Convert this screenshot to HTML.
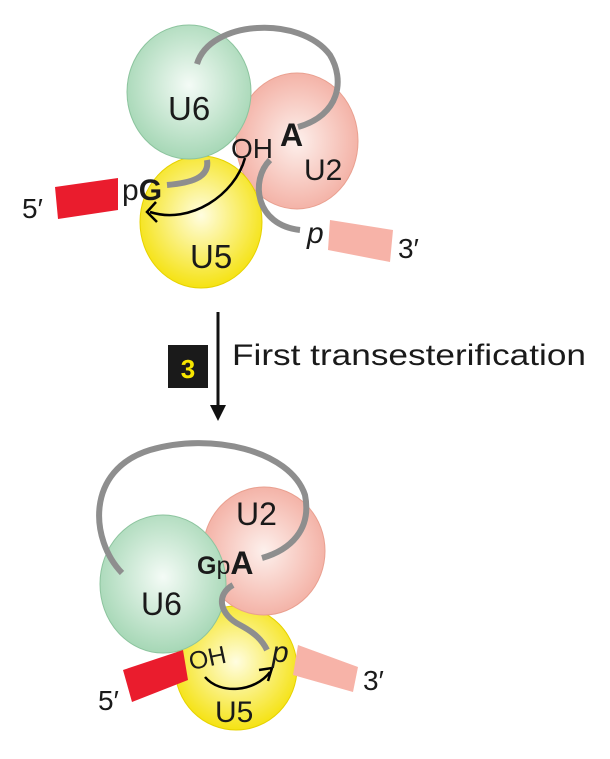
<!DOCTYPE html>
<html><head><meta charset="utf-8"><style>
html,body{margin:0;padding:0;background:#fff;}
svg{display:block;font-family:"Liberation Sans",sans-serif;}
</style></head><body>
<svg width="610" height="759" viewBox="0 0 610 759" xmlns="http://www.w3.org/2000/svg">
<defs>
<radialGradient id="g" cx="50%" cy="45%" r="60%"><stop offset="0" stop-color="#f4fbf6"/><stop offset="1" stop-color="#9fd4b0"/></radialGradient>
<radialGradient id="r" cx="50%" cy="50%" r="60%"><stop offset="0" stop-color="#fdf0ec"/><stop offset="1" stop-color="#f2a79a"/></radialGradient>
<radialGradient id="y" cx="50%" cy="45%" r="60%"><stop offset="0" stop-color="#fffde0"/><stop offset="1" stop-color="#f4e000"/></radialGradient>
</defs>
<!-- TOP -->
<ellipse cx="297" cy="141" rx="61" ry="68" fill="url(#r)" stroke="#e9a090" stroke-width="1"/>
<ellipse cx="201" cy="222" rx="61" ry="66" fill="url(#y)" stroke="#e6d200" stroke-width="1"/>
<ellipse cx="189" cy="92" rx="62" ry="67" fill="url(#g)" stroke="#8cc49e" stroke-width="1"/>
<path d="M197,64 C210,20 300,15 330,55 C345,80 340,115 298,127" fill="none" stroke="#8e8e8e" stroke-width="6"/>
<path d="M207,160 C210,178 190,183 167,185" fill="none" stroke="#8e8e8e" stroke-width="6"/>
<path d="M270,160 C250,180 255,225 300,230" fill="none" stroke="#8e8e8e" stroke-width="6"/>
<path d="M245,158 C235,195 190,225 150,212" fill="none" stroke="#000" stroke-width="2.5"/>
<path d="M156,202 L147,212 L157,222" fill="none" stroke="#000" stroke-width="2.5"/>
<polygon points="55,187 118,178 118,210 58,219" fill="#ea1c2d"/>
<polygon points="330,220 393,230 390,262 328,250" fill="#f7b3a8"/>
<g font-size="28" fill="#1a1a1a">
<text x="168" y="120" font-size="33">U6</text>
<text x="304" y="180" font-size="30">U2</text>
<text x="190" y="268" font-size="33">U5</text>
<text x="22" y="218">5′</text>
<text x="122" y="200" font-size="30">p<tspan font-weight="bold">G</tspan></text>
<text x="231" y="158">OH</text>
<text x="280" y="146" font-weight="bold" font-size="32">A</text>
<text x="307" y="243" font-style="italic" font-size="30">p</text>
<text x="398" y="258">3′</text>
</g>
<!-- MIDDLE -->
<line x1="218" y1="312" x2="218" y2="412" stroke="#111" stroke-width="3"/>
<polygon points="210,405 226,405 218,421" fill="#111"/>
<rect x="168" y="345" width="40" height="43" fill="#1a1a1a"/>
<text x="188" y="378" font-size="26" font-weight="bold" fill="#f7e600" text-anchor="middle">3</text>
<text x="232" y="365" font-size="30" fill="#1a1a1a" textLength="354" lengthAdjust="spacingAndGlyphs">First transesterification</text>
<!-- BOTTOM -->
<ellipse cx="236" cy="668" rx="61" ry="62" fill="url(#y)" stroke="#e6d200" stroke-width="1"/>
<ellipse cx="264" cy="551" rx="61" ry="64" fill="url(#r)" stroke="#e9a090" stroke-width="1"/>
<ellipse cx="163" cy="584" rx="63" ry="69" fill="url(#g)" stroke="#8cc49e" stroke-width="1"/>
<path d="M122,573 C90,540 85,470 150,450 C210,432 290,450 305,495 C312,530 290,550 262,558" fill="none" stroke="#8e8e8e" stroke-width="6"/>
<path d="M233,585 C215,595 220,615 240,625 C255,633 262,640 267,650" fill="none" stroke="#8e8e8e" stroke-width="6"/>
<polygon points="123,670 183,650 188,680 132,702" fill="#ea1c2d"/>
<polygon points="298,645 358,667 353,692 293,675" fill="#f7b3a8"/>
<path d="M205,677 C220,695 255,692 270,672" fill="none" stroke="#000" stroke-width="2.5"/>
<path d="M259,670 L272,668 L268,681" fill="none" stroke="#000" stroke-width="2.5"/>
<g font-size="28" fill="#1a1a1a">
<text x="236" y="525" font-size="32">U2</text>
<text x="141" y="615" font-size="32">U6</text>
<text x="215" y="722" font-size="30">U5</text>
<text x="197" y="574" font-size="25"><tspan font-weight="bold">G</tspan>p<tspan font-weight="bold" font-size="32">A</tspan></text>
<text x="189" y="668" font-size="25" transform="rotate(-12 200 660)">OH</text>
<text x="272" y="662" font-style="italic" font-size="30">p</text>
<text x="98" y="710">5′</text>
<text x="363" y="690">3′</text>
</g>
</svg>
</body></html>
